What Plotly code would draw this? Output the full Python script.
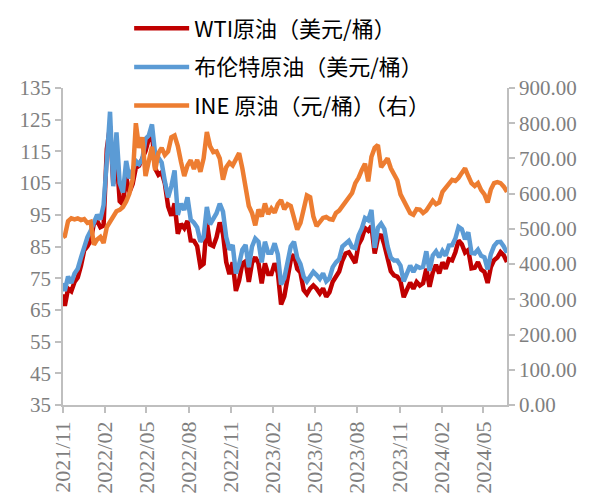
import pandas as pd
import plotly.graph_objects as go

# Weekly sample dates (first trading day, then Fridays)
dates = ["2021-11-29"] + [d.strftime("%Y-%m-%d") for d in pd.date_range("2021-12-03", "2024-07-19", freq="7D")]

tick_dates = ["2021-11-29", "2022-02-28", "2022-05-29", "2022-08-29", "2022-11-29",
              "2023-02-28", "2023-05-29", "2023-08-29", "2023-11-29", "2024-02-29", "2024-05-29"]

wti = [69.9,
       66.3, 71.7, 70.9, 73.8, 75.2, 78.9, 83.8, 85.1, 86.8, 92.3,
       93.1, 91.1, 91.6, 115.7, 123, 104.7, 113.9, 99.3, 98.3, 106.9,
       102.1, 104.7, 109.8, 110.5, 113.2, 115.1, 118.9, 120.7, 109.6, 107.6,
       108.4, 104.8, 97.6, 94.7, 98.6, 89, 92.1, 90.8, 93.1, 86.9,
       86.8, 85.1, 78.7, 79.5, 92.6, 85.6, 85.1, 87.9, 92.6, 89,
       80.1, 76.3, 80, 71, 74.3, 79.6, 80.3, 73.8, 79.9, 81.6,
       79.7, 73.4, 79.7, 76.3, 76.3, 79.7, 76.7, 66.7, 69.3, 75.7,
       80.7, 82.5, 77.9, 76.8, 71.3, 70, 71.7, 72.7, 71.7, 70.2,
       71.8, 69.2, 70.6, 73.9, 75.4, 77.1, 80.6, 82.8, 83.2, 81.3,
       79.8, 85.6, 87.5, 90.8, 90, 91.5, 82.8, 87.7, 88.8, 85.5,
       80.5, 77.2, 75.9, 75.5, 74.1, 69, 71.4, 73.6, 71.7, 73.8,
       72.7, 73.4, 78, 72.3, 76.8, 79.2, 76.5, 80, 78, 81,
       80.6, 83.2, 86.9, 85.7, 83.1, 83.9, 78.1, 78.3, 80.1, 77.7,
       77, 73.5, 78.5, 80.7, 81.5, 83.2, 82.2, 80.1]

brent = [73.5,
         71, 75.5, 73.5, 76.5, 78, 81.5, 85, 88, 90, 92.5,
         95, 93.5, 98, 112, 127.5, 104, 121, 105, 102, 112,
         106.5, 109, 112, 111, 112.5, 119, 120, 123.5, 114, 113,
         111.5, 105.5, 100.5, 104, 109, 95, 98.5, 96.5, 100.5, 93.5,
         92.5, 91, 86.5, 88, 97.5, 92, 93.5, 95.5, 98.5, 96,
         88, 84, 85.5, 76.5, 79.5, 84, 85.5, 78.5, 85, 87.5,
         86.5, 80, 86.5, 83, 83, 86, 82.5, 73, 75, 80,
         85, 86.5, 81.5, 79.5, 75.5, 74, 75.5, 77, 76, 74.8,
         76.5, 74, 75, 78.5, 80, 81, 85, 86, 86.8, 84.8,
         84.5, 88.5, 90.7, 94, 93.3, 96.5, 84.6, 90.9, 92.2, 90.5,
         85, 81.5, 80.6, 80.6, 79, 74, 76.6, 79, 77, 78.8,
         78.3, 78.6, 83.5, 77.3, 82.2, 83.5, 81.6, 83.6, 82.1, 85.3,
         85.4, 87.5, 91.2, 90.5, 87.3, 89.5, 83, 82.8, 84, 82.1,
         81.6, 77.8, 82.6, 85.2, 86.4, 86.5, 85, 83]

ine = [477,
       480, 522, 530, 527, 530, 525, 528, 517, 520, 455,
       470, 477, 460, 505, 520, 536, 550, 554, 562, 578,
       600, 640, 800, 730, 760, 650, 690, 733, 667, 715,
       730, 710, 720, 760, 765, 735, 690, 650, 680, 695,
       670, 696, 662, 700, 775, 735, 718, 720, 700, 640,
       675, 688, 680, 700, 715, 672, 615, 565, 545, 510,
       555, 535, 572, 542, 558, 546, 570, 582, 556, 570,
       565, 530, 498, 517, 550, 595, 590, 535, 508, 520,
       531, 534, 528, 526, 545, 552, 565, 578, 590, 602,
       630, 645, 667, 685, 635, 705, 730, 738, 675, 690,
       700, 672, 655, 638, 598, 582, 566, 545, 540, 556,
       555, 545, 552, 565, 580, 570, 575, 605, 615, 625,
       639, 636, 645, 659, 672, 650, 630, 622, 630, 610,
       598, 575, 612, 630, 633, 630, 620, 605]

names = ["WTI原油（美元/桶）", "布伦特原油（美元/桶）", "INE 原油（元/桶）（右）"]
colors = ["#C00000", "#5B9BD5", "#ED7D31"]

fig = go.Figure()
fig.add_trace(go.Scatter(x=dates, y=wti, name=names[0], mode="lines",
                         line=dict(color=colors[0], width=4.5), legendgroup="g1"))
fig.add_trace(go.Scatter(x=dates, y=brent, name=names[1], mode="lines",
                         line=dict(color=colors[1], width=4.5), legendgroup="g2"))
fig.add_trace(go.Scatter(x=dates, y=ine, name=names[2], mode="lines", yaxis="y2",
                         line=dict(color=colors[2], width=4.5), legendgroup="g3"))

axis_col = "#BFBFBF"
serif = "Liberation Serif, Times New Roman, serif"
tick_font = dict(family=serif, size=21, color="#7F7F7F")

fig.update_layout(
    width=587, height=493,
    margin=dict(l=55, r=88, t=80, b=96, autoexpand=False),
    paper_bgcolor="white", plot_bgcolor="white",
    showlegend=True,
    legend=dict(x=0.149, y=1.254, xref="paper", yref="paper",
                xanchor="left", yanchor="top",
                font=dict(family="Noto Sans CJK SC", size=22, color="black"),
                bgcolor="rgba(0,0,0,0)", tracegroupgap=7, traceorder="grouped",
                itemwidth=55),
    xaxis=dict(type="date", range=["2021-11-29", "2024-07-19"],
               tickvals=tick_dates, tickformat="%Y/%m", tickangle=-90,
               showline=True, linecolor=axis_col, linewidth=1.5,
               ticks="outside", ticklen=6, tickcolor=axis_col, tickwidth=1.5,
               tickfont=dict(family=serif, size=22, color="#7F7F7F"),
               showgrid=False, zeroline=False, automargin=False),
    yaxis=dict(range=[35, 135], tick0=35, dtick=10,
               showline=True, linecolor=axis_col, linewidth=1.5,
               ticks="outside", ticklen=6, tickcolor=axis_col, tickwidth=1.5,
               tickfont=tick_font, showgrid=False, zeroline=False, automargin=False),
    yaxis2=dict(range=[0, 900], tick0=0, dtick=100, tickformat=".2f",
                overlaying="y", side="right",
                showline=True, linecolor=axis_col, linewidth=1.5,
                ticks="outside", ticklen=6, tickcolor=axis_col, tickwidth=1.5,
                tickfont=tick_font, showgrid=False, zeroline=False, automargin=False),
)

fig.write_html("out.html")
